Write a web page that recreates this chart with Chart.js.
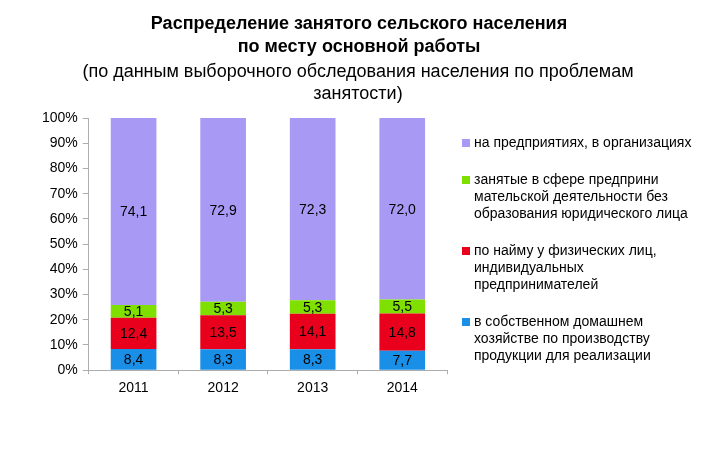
<!DOCTYPE html>
<html>
<head>
<meta charset="utf-8">
<script src="https://cdn.jsdelivr.net/npm/chart.js@4"></script>
<style>
  html, body { margin: 0; padding: 0; background: #fff; }
  #wrap { width: 720px; height: 450px; }
</style>
</head>
<body>
<div id="wrap"><canvas id="mycanvas"></canvas></div>
<script>
var years = ['2011', '2012', '2013', '2014'];

// bottom to top of each bar
var ownFarm = [8.4, 8.3, 8.3, 7.7];
var hired = [12.4, 13.5, 14.1, 14.8];
var selfEmployed = [5.1, 5.3, 5.3, 5.5];
var enterprises = [74.1, 72.9, 72.3, 72.0];

var yTicks = [0, 10, 20, 30, 40, 50, 60, 70, 80, 90, 100];

var titleLines = ['Распределение занятого сельского населения', 'по месту основной работы'];
var subtitleLines = ['(по данным выборочного обследования населения по проблемам', 'занятости)'];

var legendLines = [
  ['на предприятиях, в организациях'],
  ['занятые в сфере предприни', 'мательской деятельности без', 'образования юридического лица'],
  ['по найму у физических лиц,', 'индивидуальных', 'предпринимателей'],
  ['в собственном домашнем', 'хозяйстве по производству', 'продукции для реализации']
];

var FONT = '"Liberation Sans", Arial, sans-serif';
var AXIS = '#adadad';

// titles centred over the whole picture, not just the plot
var pageTitle = {
  id: 'pageTitle',
  afterDraw: function(chart) {
    var ctx = chart.ctx;
    ctx.save();
    ctx.fillStyle = '#000';
    ctx.textAlign = 'center';
    ctx.textBaseline = 'middle';
    ctx.font = 'bold 18px ' + FONT;
    ctx.fillText(titleLines[0], 359, 24);
    ctx.fillText(titleLines[1], 359, 47);
    ctx.font = '18px ' + FONT;
    ctx.fillText(subtitleLines[0], 358, 72);
    ctx.fillText(subtitleLines[1], 358, 94);
    ctx.restore();
  }
};

// values written in the middle of every segment
var segmentLabels = {
  id: 'segmentLabels',
  afterDatasetsDraw: function(chart) {
    var ctx = chart.ctx;
    ctx.save();
    ctx.font = '14px ' + FONT;
    ctx.fillStyle = '#000';
    ctx.textAlign = 'center';
    ctx.textBaseline = 'middle';
    chart.data.datasets.forEach(function(ds, i) {
      chart.getDatasetMeta(i).data.forEach(function(bar, j) {
        var txt = ds.data[j].toFixed(1).replace('.', ',');
        ctx.fillText(txt, bar.x, (bar.y + bar.base) / 2 + 1);
      });
    });
    ctx.restore();
  }
};

// legend on the right, top item = top segment
var sideLegend = {
  id: 'sideLegend',
  afterDraw: function(chart) {
    var ctx = chart.ctx;
    var ds = chart.data.datasets;
    var tops = [143, 180, 251, 322];
    ctx.save();
    ctx.font = '14px ' + FONT;
    ctx.textBaseline = 'middle';
    for (var k = 0; k < legendLines.length; k++) {
      var d = ds[ds.length - 1 - k];
      ctx.fillStyle = d.backgroundColor;
      ctx.fillRect(462, tops[k] - 4, 8, 8);
      ctx.fillStyle = '#000';
      legendLines[k].forEach(function(line, n) {
        ctx.fillText(line, 474, tops[k] + n * 17);
      });
    }
    ctx.restore();
  }
};

var chartdata = {
  labels: years,
  datasets: [
    { label: 'в собственном домашнем хозяйстве по производству продукции для реализации', data: ownFarm, backgroundColor: '#1a8fe8' },
    { label: 'по найму у физических лиц, индивидуальных предпринимателей', data: hired, backgroundColor: '#e8001c' },
    { label: 'занятые в сфере предпринимательской деятельности без образования юридического лица', data: selfEmployed, backgroundColor: '#7fe000' },
    { label: 'на предприятиях, в организациях', data: enterprises, backgroundColor: '#a899f5' }
  ]
};

var ctx = document.getElementById('mycanvas');

new Chart(ctx, {
  type: 'bar',
  data: chartdata,
  options: {
    responsive: true,
    maintainAspectRatio: false,
    animation: false,
    devicePixelRatio: 1,
    layout: { padding: { left: 37, right: 273, top: 118, bottom: 47 } },
    datasets: { bar: { categoryPercentage: 1, barPercentage: 0.51 } },
    plugins: {
      legend: { display: false },
      tooltip: { enabled: false }
    },
    scales: {
      x: {
        stacked: true,
        grid: { offset: true, drawOnChartArea: false, tickLength: 4, color: AXIS },
        border: { color: AXIS },
        ticks: { color: '#000', font: { family: FONT, size: 14 }, padding: 6 }
      },
      y: {
        stacked: true,
        min: 0,
        max: 100,
        afterBuildTicks: function(axis) {
          axis.ticks = yTicks.map(function(v) { return { value: v }; });
        },
        grid: { drawOnChartArea: false, tickLength: 6, color: AXIS },
        border: { color: AXIS },
        ticks: {
          color: '#000',
          font: { family: FONT, size: 14 },
          padding: 5,
          callback: function(v) { return v + '%'; }
        }
      }
    }
  },
  plugins: [segmentLabels, sideLegend, pageTitle]
});
</script>
</body>
</html>
